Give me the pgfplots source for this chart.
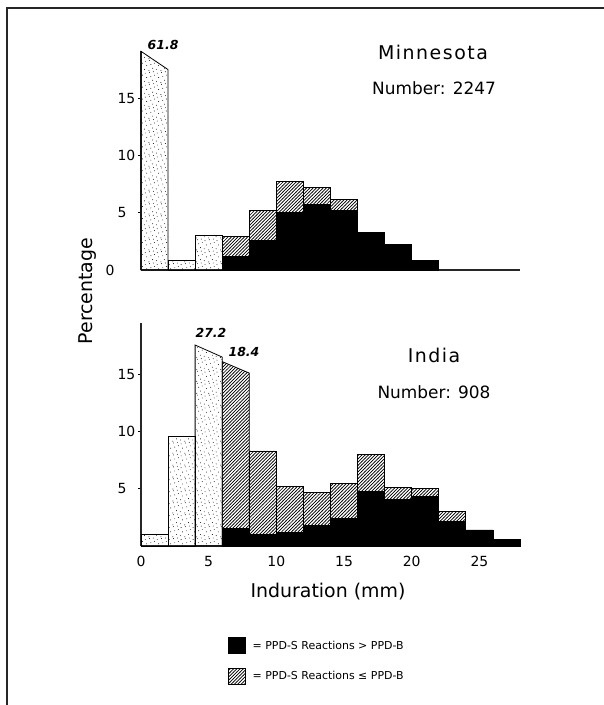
\documentclass[border=0pt]{standalone}
\usepackage{pgfplots}
\pgfplotsset{compat=1.18}
\usetikzlibrary{patterns}
\usepackage{fontspec}
\setmainfont{DejaVu Sans}
\newfontfamily\titlefont[LetterSpace=8]{DejaVu Sans}

\pgfdeclarepatternformonly{stipple}{\pgfqpoint{-1pt}{-1pt}}{\pgfqpoint{13pt}{13pt}}{\pgfqpoint{12pt}{12pt}}{%
  \pgfpathcircle{\pgfqpoint{1pt}{2pt}}{0.45pt}
  \pgfpathcircle{\pgfqpoint{5.5pt}{0.8pt}}{0.45pt}
  \pgfpathcircle{\pgfqpoint{9.2pt}{3.1pt}}{0.45pt}
  \pgfpathcircle{\pgfqpoint{3.2pt}{5.8pt}}{0.45pt}
  \pgfpathcircle{\pgfqpoint{7.4pt}{6.9pt}}{0.45pt}
  \pgfpathcircle{\pgfqpoint{11pt}{8.2pt}}{0.45pt}
  \pgfpathcircle{\pgfqpoint{1.8pt}{10.1pt}}{0.45pt}
  \pgfpathcircle{\pgfqpoint{6.1pt}{11pt}}{0.45pt}
  \pgfpathcircle{\pgfqpoint{10pt}{11.6pt}}{0.45pt}
  \pgfusepath{fill}}
\pgfdeclarepatternformonly{hatch}{\pgfqpoint{-1pt}{-1pt}}{\pgfqpoint{4.5pt}{4.5pt}}{\pgfqpoint{3.3pt}{3.3pt}}{%
  \pgfsetlinewidth{0.7pt}
  \pgfpathmoveto{\pgfqpoint{-0.2pt}{-0.2pt}}
  \pgfpathlineto{\pgfqpoint{3.5pt}{3.5pt}}
  \pgfusepath{stroke}}

\pgfplotsset{
  hist/.style={
    scale only axis, width=379bp, xmin=0, xmax=28, ymin=0,
    axis lines=left, axis line style={-, line width=1.1bp, black!85},
    clip=false,
    tick align=outside, major tick length=3bp,
    ytick={5,10,15},
    tick style={black, line width=0.9bp},
    xtick style={draw=none},
    /pgf/number format/assume math mode=true,
    ticklabel style={font=\fontsize{14}{16}\selectfont},
    yticklabel style={anchor=west, xshift=-24bp},
    xticklabel style={yshift=-4bp},
  },
  bar/.style={draw=black, line width=0.8bp, mark=none, forget plot},
}

\begin{document}
\begin{tikzpicture}
\useasboundingbox (0,0) rectangle (604bp,-705bp);
\draw[line width=2bp, black!85] (7bp,-705bp) -- (7bp,-8bp) -- (604bp,-8bp);

% ---------- Minnesota ----------
\begin{axis}[hist, at={(141bp,-270bp)}, anchor=south west,
  height=218.7bp, ymax=19.1, xtick=\empty,
  extra y ticks={0}, extra y tick labels={0},
  extra y tick style={tick style={draw=none}, yticklabel style={xshift=-12bp}}]
\addplot[bar, pattern=stipple] coordinates {(0,0) (0,19.1) (2,17.5) (2,0)} -- cycle;
\addplot[bar, ybar interval, pattern=stipple] coordinates {(2,0.8) (4,3.0) (6,0)};
\addplot[bar, ybar interval, pattern=hatch] coordinates {(6,2.9) (8,5.2) (10,7.7) (12,7.2) (14,6.2) (16,0)};
\addplot[bar, ybar interval, fill=black] coordinates {(6,1.2) (8,2.6) (10,5.0) (12,5.7) (14,5.2) (16,3.3) (18,2.2) (20,0.8) (22,0)};
\node[font=\fontsize{12.5}{14}\selectfont\bfseries\itshape] at (axis cs:1.63,19.65) {61.8};
\end{axis}

% ---------- India ----------
\begin{axis}[hist, at={(141bp,-546bp)}, anchor=south west,
  height=223.3bp, ymax=19.5, xtick={0,5,...,25},
  legend style={at={(0.2296,-0.409)}, anchor=north west, draw=none, fill=none,
    inner sep=0pt, outer sep=0pt, row sep=14bp, column sep=7bp,
    font=\fontsize{11}{13}\selectfont, nodes={inner sep=0pt, anchor=west}},
  legend cell align=left,
  legend image code/.code={\draw[#1, line width=0.7bp] (0bp,-8bp) rectangle (17bp,8bp);}]
\addlegendimage{fill=black, draw=black}
\addlegendentry{= PPD-S Reactions > PPD-B}
\addlegendimage{pattern=hatch, draw=black}
\addlegendentry{= PPD-S Reactions ≤ PPD-B}
\addplot[bar, ybar interval, pattern=stipple] coordinates {(0,1.0) (2,9.6) (4,0)};
\addplot[bar, pattern=stipple] coordinates {(4,0) (4,17.55) (6,16.5) (6,0)} -- cycle;
\addplot[bar, pattern=hatch] coordinates {(6,0) (6,16.1) (8,15.1) (8,0)} -- cycle;
\addplot[bar, ybar interval, pattern=hatch] coordinates {(8,8.3) (10,5.2) (12,4.65) (14,5.5) (16,8.0) (18,5.15) (20,5.0) (22,3.05) (24,0)};
\addplot[bar, ybar interval, fill=black] coordinates {(6,1.5) (8,1.0) (10,1.15) (12,1.8) (14,2.4) (16,4.8) (18,4.05) (20,4.3) (22,2.15) (24,1.4) (26,0.6) (28,0)};
\node[font=\fontsize{12.5}{14}\selectfont\bfseries\itshape] at (axis cs:5.17,18.6) {27.2};
\node[font=\fontsize{12.5}{14}\selectfont\bfseries\itshape] at (axis cs:7.61,16.94) {18.4};
\end{axis}

% ---------- texts ----------
\node[font=\titlefont\fontsize{19}{22}\selectfont] at (433bp,-52bp) {Minnesota};
\node[font=\fontsize{17}{20}\selectfont] at (434bp,-88bp) {Number: 2247};
\node[font=\titlefont\fontsize{19}{22}\selectfont] at (434bp,-355bp) {India};
\node[font=\fontsize{17}{20}\selectfont] at (434bp,-392bp) {Number: 908};
\node[font=\fontsize{19}{22}\selectfont, rotate=90] at (88bp,-291bp) {Percentage};
\node[font=\fontsize{19}{22}\selectfont] at (328bp,-592bp) {Induration (mm)};
\end{tikzpicture}
\end{document}
